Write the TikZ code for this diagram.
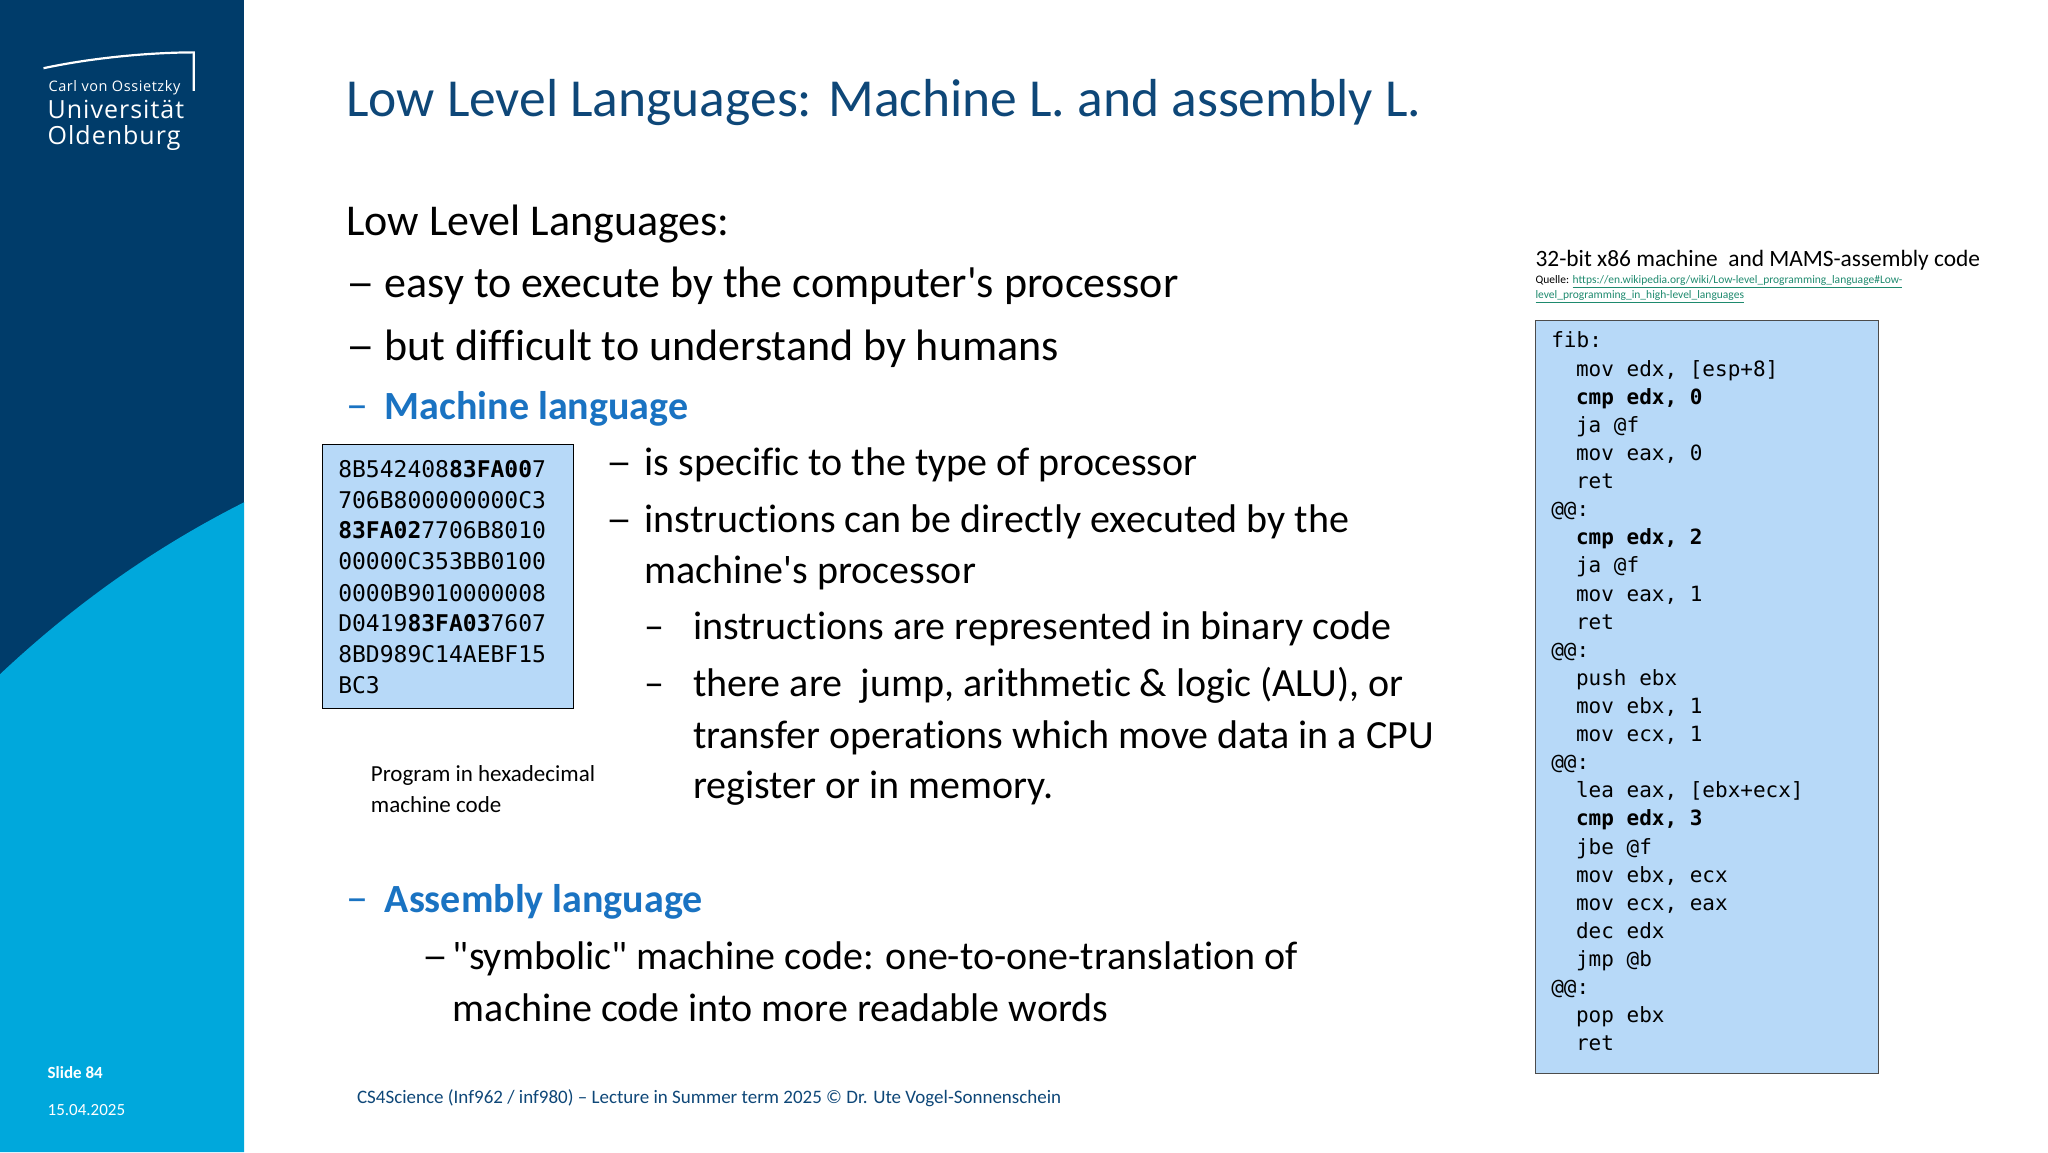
\documentclass[tikz,border=0pt]{standalone}
\usepackage{fontspec}
\usepackage{graphicx}
\setmainfont{Carlito}[Ligatures={TeXOff,NoCommon}]
\setmonofont{DejaVu Sans Mono}
\newfontfamily\logofont{Open Sans}[LetterSpace=4]
\definecolor{dkblue}{HTML}{003C6A}
\definecolor{ltblue}{HTML}{00A8DC}
\definecolor{ttl}{HTML}{0E4778}
\definecolor{hd}{HTML}{1A73C2}
\definecolor{boxfill}{HTML}{B7D9F8}
\definecolor{lnk}{HTML}{1E8A6E}
\newcommand{\ldash}{\scalebox{1.3}[1]{–}}
\tikzset{
  t/.style={anchor=base west,inner sep=0pt,font=\fontsize{44}{50}\selectfont},
  ts/.style={anchor=base west,inner sep=0pt,font=\fontsize{40}{48}\selectfont},
  mono/.style={anchor=base west,inner sep=0pt,font=\ttfamily\fontsize{23}{31}\selectfont},
  amono/.style={anchor=base west,inner sep=0pt,font=\ttfamily\fontsize{21}{28}\selectfont},
  codebox/.style={draw=black,line width=1.2pt,fill=boxfill},
}
\begin{document}
\begin{tikzpicture}[x=0.9886pt,y=-0.9886pt]
\useasboundingbox (0,0) rectangle (2071.6,1165.3);
\fill[white] (0,0) rectangle (2071.6,1165.3);
% sidebar
\fill[dkblue] (0,0) rectangle (247,1165.3);
\fill[ltblue] (0,682) .. controls (80,607) and (160,552) .. (247,508) -- (247,1165.3) -- (0,1165.3) -- cycle;
\draw[white,line width=2.2pt] (44,69) .. controls (100,57) and (160,53) .. (196,53) -- (196,92);
\node[anchor=base west,inner sep=0pt,white,font=\logofont\fontsize{14.5}{18}\selectfont] (l1) at (49,93) {Carl von Ossietzky};
\node[anchor=base west,inner sep=0pt,white,font=\logofont\fontsize{25}{28}\selectfont] (l2) at (48,120) {Universität};
\node[anchor=base west,inner sep=0pt,white,font=\logofont\fontsize{25}{28}\selectfont] (l3) at (48,146) {Oldenburg};
\node[anchor=base west,inner sep=0pt,white,font=\bfseries\fontsize{17}{20}\selectfont] (sl) at (48,1091) {Slide 84};
\node[anchor=base west,inner sep=0pt,white,font=\fontsize{17}{20}\selectfont] (dt) at (48,1128) {15.04.2025};
% title
\node[anchor=base west,inner sep=0pt,ttl,font=\fontsize{53.5}{60}\selectfont] (title) at (350,118) {Low Level Languages: Machine L. and assembly L.};
% body
\node[t] (b0) at (350,238) {Low Level Languages:};
\node[t] (d1) at (350,301) {\ldash}; \node[t] (b1) at (389,301) {easy to execute by the computer's processor};
\node[t] (d2) at (350,365) {\ldash}; \node[t] (b2) at (389,365) {but difficult to understand by humans};
\node[t,hd] (d3) at (350,424) {–}; \node[t,hd,font=\bfseries\fontsize{40}{48}\selectfont] (b3) at (389,424) {Machine language};
\node[ts] (d4) at (613,481) {\ldash}; \node[ts] (b4) at (652,481) {is specific to the type of processor};
\node[ts] (d5) at (613,539) {\ldash}; \node[ts] (b5) at (652,539) {instructions can be directly executed by the};
\node[ts] (b5b) at (652,590) {machine's processor};
\node[ts] (d6) at (652,647) {–}; \node[ts] (b6) at (701,647) {instructions are represented in binary code};
\node[ts] (d7) at (652,705) {–}; \node[ts] (b7) at (701,705) {there are\ \ jump, arithmetic \& logic (ALU), or};
\node[ts] (b7b) at (701,757) {transfer operations which move data in a CPU};
\node[ts] (b7c) at (701,808) {register or in memory.};
\node[t,hd] (d8) at (350,923) {–}; \node[t,hd,font=\bfseries\fontsize{40}{48}\selectfont] (b8) at (389,923) {Assembly language};
\node[ts] (d9) at (427,981) {\ldash}; \node[ts] (b9) at (458,981) {"symbolic" machine code: one-to-one-translation of};
\node[ts] (b9b) at (458,1033) {machine code into more readable words};
% hex box
\draw[codebox] (326,450) rectangle (580,717);
\node[mono] (h1) at (342,483) {8B542408\textbf{83FA00}7};
\node[mono] (h2) at (342,514) {706B800000000C3};
\node[mono] (h3) at (342,545) {\textbf{83FA02}7706B8010};
\node[mono] (h4) at (342,576) {00000C353BB0100};
\node[mono] (h5) at (342,608) {0000B9010000008};
\node[mono] (h6) at (342,639) {D0419\textbf{83FA03}7607};
\node[mono] (h7) at (342,670) {8BD989C14AEBF15};
\node[mono] (h8) at (342,701) {BC3};
\node[anchor=base west,inner sep=0pt,font=\fontsize{23}{26}\selectfont] (cap1) at (375,790) {Program in hexadecimal};
\node[anchor=base west,inner sep=0pt,font=\fontsize{23}{26}\selectfont] (cap2) at (375,822) {machine code};
% right
\node[anchor=base west,inner sep=0pt,font=\fontsize{23.4}{26}\selectfont] (rt) at (1553,270) {32-bit x86 machine\ \ and MAMS-assembly code};
\node[anchor=base west,inner sep=0pt,font=\fontsize{11.5}{13}\selectfont] (q1) at (1553,287) {Quelle: \textcolor{lnk}{\underline{https://en.wikipedia.org/wiki/Low-level\_programming\_language\#Low-}}};
\node[anchor=base west,inner sep=0pt,font=\fontsize{11.5}{13}\selectfont,lnk] (q2) at (1553,302) {\underline{level\_programming\_in\_high-level\_languages}};
\draw[codebox,draw=black!70] (1553,324) rectangle (1900,1086);
\foreach \i/\x/\s in {0/1569/{fib:},1/1594/{mov edx, [esp+8]},2/1594/{\textbf{cmp edx, 0}},3/1594/{ja @f},4/1594/{mov eax, 0},5/1594/{ret},6/1569/{@@:},7/1594/{\textbf{cmp edx, 2}},8/1594/{ja @f},9/1594/{mov eax, 1},10/1594/{ret},11/1569/{@@:},12/1594/{push ebx},13/1594/{mov ebx, 1},14/1594/{mov ecx, 1},15/1569/{@@:},16/1594/{lea eax, [ebx+ecx]},17/1594/{\textbf{cmp edx, 3}},18/1594/{jbe @f},19/1594/{mov ebx, ecx},20/1594/{mov ecx, eax},21/1594/{dec edx},22/1594/{jmp @b},23/1569/{@@:},24/1594/{pop ebx},25/1594/{ret}}
  \node[amono] (a\i) at (\x,352+28.44*\i) {\s};
% footer
\node[anchor=base west,inner sep=0pt,ttl,font=\fontsize{19}{22}\selectfont] (ft) at (361,1116) {CS4Science (Inf962 / inf980) – Lecture in Summer term 2025 © Dr. Ute Vogel-Sonnenschein};
\end{tikzpicture}
\end{document}
